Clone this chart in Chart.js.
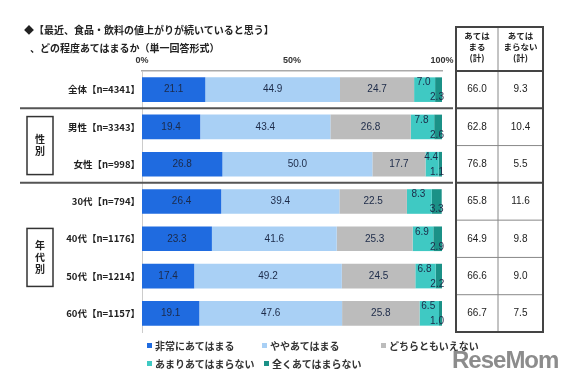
<!DOCTYPE html>
<html lang="ja">
<head>
<meta charset="utf-8">
<script src="https://cdn.jsdelivr.net/npm/chart.js@4"></script>
<style>
    body { margin: 0; background: #fff; }
    #wrap { position: relative; width: 561px; height: 383px; overflow: hidden; font-family: "Noto Sans CJK JP", sans-serif; }
    #chart { position: absolute; left: 0; top: 0; }
    .title { position: absolute; font-size: 10px; font-weight: bold; color: #222; white-space: nowrap; }
    .legend { position: absolute; font-size: 10px; font-weight: bold; color: #333; white-space: nowrap; }
    .legend i { display: inline-block; width: 5px; height: 5px; margin-right: 3px; vertical-align: 2px; }
    .logo { position: absolute; left: 452px; top: 346px; font-family: "Liberation Sans", sans-serif; font-weight: bold; font-size: 24px; color: #8c8c8c; letter-spacing: -1px; }
</style>
</head>
<body>
<div id="wrap">
    <canvas id="chart" width="561" height="383"></canvas>
    <div class="title" style="left:24px; top:22px;">◆【最近、食品・飲料の値上がりが続いていると思う】</div>
    <div class="title" style="left:30px; top:40px;">、どの程度あてはまるか（単一回答形式）</div>
    <div id="legendBox"></div>
    <div class="logo">ReseMom</div>
</div>
<script>
// Data
const categories = ['全体【n=4341】', '男性【n=3343】', '女性【n=998】', '30代【n=794】', '40代【n=1176】', '50代【n=1214】', '60代【n=1157】'];
const seriesNames = ['非常にあてはまる', 'ややあてはまる', 'どちらともいえない', 'あまりあてはまらない', '全くあてはまらない'];
const veryTrue = [21.1, 19.4, 26.8, 26.4, 23.3, 17.4, 19.1];
const somewhatTrue = [44.9, 43.4, 50.0, 39.4, 41.6, 49.2, 47.6];
const neither = [24.7, 26.8, 17.7, 22.5, 25.3, 24.5, 25.8];
const notReally = [7.0, 7.8, 4.4, 8.3, 6.9, 6.8, 6.5];
const notAtAll = [2.3, 2.6, 1.1, 3.3, 2.9, 2.2, 1.0];
const applyTotal = [66.0, 62.8, 76.8, 65.8, 64.9, 66.6, 66.7];
const notApplyTotal = [9.3, 10.4, 5.5, 11.6, 9.8, 9.0, 7.5];
const xTicks = [0, 50, 100];
const groups = [
    { label: '性別', from: 1, to: 2 },
    { label: '年代別', from: 3, to: 6 }
];
const separatorsAfter = [0, 2];

const colors = ['#1f6be0', '#a9d0f5', '#bcbcbc', '#3fc9c3', '#1b9187'];
const seriesData = [veryTrue, somewhatTrue, neither, notReally, notAtAll];

// legend (html)
const legendPos = [[147, 338], [262, 338], [381, 338], [147, 356], [264, 356]];
const legendBox = document.getElementById('legendBox');
seriesNames.forEach((name, i) => {
    const el = document.createElement('div');
    el.className = 'legend';
    el.style.left = legendPos[i][0] + 'px';
    el.style.top = legendPos[i][1] + 'px';
    el.innerHTML = `<i style="background:${colors[i]}"></i>${name}`;
    legendBox.appendChild(el);
});

const extrasPlugin = {
    id: 'extras',
    afterDatasetsDraw(chart) {
        const ctx = chart.ctx;
        const yScale = chart.scales.y;
        const band = yScale.getPixelForValue(1) - yScale.getPixelForValue(0);
        const edge = i => yScale.getPixelForValue(i) + band / 2;
        const tTop = 27, c0 = 456, c1 = 498, c2 = 543;
        const tBottom = edge(categories.length - 1);

        // value labels
        ctx.save();
        ctx.font = '10px "Liberation Sans", sans-serif';
        ctx.fillStyle = '#1c2a48';
        ctx.textAlign = 'center';
        ctx.textBaseline = 'middle';
        chart.data.datasets.forEach((ds, di) => {
            chart.getDatasetMeta(di).data.forEach((bar, i) => {
                const v = ds.data[i].toFixed(1);
                const mid = (bar.x + bar.base) / 2;
                if (di < 3) ctx.fillText(v, mid, bar.y);
                else if (di === 3) ctx.fillText(v, mid - 1, bar.y - 7);
                else ctx.fillText(v, bar.x - 5, bar.y + 8);
            });
        });
        ctx.restore();

        // separators
        ctx.save();
        ctx.strokeStyle = '#555';
        ctx.lineWidth = 2;
        separatorsAfter.forEach(i => {
            const y = edge(i);
            ctx.beginPath();
            ctx.moveTo(20, y);
            ctx.lineTo(453, y);
            ctx.stroke();
        });
        ctx.restore();

        // group boxes
        ctx.save();
        ctx.strokeStyle = '#333';
        ctx.lineWidth = 1.5;
        ctx.fillStyle = '#222';
        ctx.font = 'bold 10px "Noto Sans CJK JP", sans-serif';
        ctx.textAlign = 'center';
        ctx.textBaseline = 'middle';
        groups.forEach(g => {
            const cy = (yScale.getPixelForValue(g.from) + yScale.getPixelForValue(g.to)) / 2;
            const n = g.label.length;
            const h = 58;
            ctx.strokeRect(27, cy - h / 2, 26, h);
            for (let k = 0; k < n; k++) {
                ctx.fillText(g.label[k], 40, cy + (k - (n - 1) / 2) * 12);
            }
        });
        ctx.restore();

        // table
        ctx.save();
        ctx.strokeStyle = '#888';
        ctx.lineWidth = 1;
        ctx.beginPath();
        ctx.moveTo(c1, tTop); ctx.lineTo(c1, tBottom);
        for (let i = 0; i < categories.length - 1; i++) {
            if (separatorsAfter.includes(i)) continue;
            ctx.moveTo(c0, edge(i)); ctx.lineTo(c2, edge(i));
        }
        ctx.stroke();
        ctx.strokeStyle = '#444';
        ctx.lineWidth = 2;
        ctx.beginPath();
        ctx.moveTo(c0, edge(-1)); ctx.lineTo(c2, edge(-1));
        separatorsAfter.forEach(i => { ctx.moveTo(c0, edge(i)); ctx.lineTo(c2, edge(i)); });
        ctx.stroke();
        ctx.strokeRect(c0, tTop, c2 - c0, tBottom - tTop);

        ctx.fillStyle = '#222';
        ctx.textAlign = 'center';
        ctx.textBaseline = 'middle';
        ctx.font = 'bold 8.5px "Noto Sans CJK JP", sans-serif';
        const h1 = ['あては', 'まる', '(計)'];
        const h2 = ['あては', 'まらない', '(計)'];
        h1.forEach((t, k) => ctx.fillText(t, (c0 + c1) / 2, 36 + k * 11));
        h2.forEach((t, k) => ctx.fillText(t, (c1 + c2) / 2, 36 + k * 11));
        ctx.font = '10px "Liberation Sans", sans-serif';
        categories.forEach((c, i) => {
            const y = yScale.getPixelForValue(i);
            ctx.fillText(applyTotal[i].toFixed(1), (c0 + c1) / 2, y);
            ctx.fillText(notApplyTotal[i].toFixed(1), (c1 + c2) / 2, y);
        });
        ctx.restore();
    }
};

const chart = new Chart(document.getElementById('chart'), {
    type: 'bar',
    data: {
        labels: categories,
        datasets: seriesData.map((d, i) => ({
            label: seriesNames[i],
            data: d,
            backgroundColor: colors[i],
            borderWidth: 0,
            barPercentage: 0.66,
            categoryPercentage: 1
        }))
    },
    options: {
        indexAxis: 'y',
        responsive: false,
        animation: false,
        layout: { padding: { left: 0, right: 119, top: 0, bottom: 51 } },
        plugins: { legend: { display: false }, tooltip: { enabled: false } },
        scales: {
            x: {
                position: 'top',
                stacked: true,
                min: 0,
                max: 100,
                afterFit: s => { s.height = 71; },
                afterBuildTicks: s => { s.ticks = xTicks.map(v => ({ value: v })); },
                grid: { display: false, drawTicks: false },
                border: { display: true, color: '#aaa', width: 1.5 },
                ticks: {
                    padding: 5,
                    color: '#333',
                    font: { size: 9, family: '"Liberation Sans", sans-serif', weight: 'bold' },
                    callback: v => v + '%'
                }
            },
            y: {
                stacked: true,
                afterFit: s => { s.width = 142; },
                grid: { display: false, drawTicks: false },
                border: { display: true, color: '#ccc', width: 1 },
                ticks: {
                    padding: 2,
                    color: '#222',
                    font: { size: 9.5, family: '"Noto Sans CJK JP", sans-serif', weight: 'bold' }
                }
            }
        }
    },
    plugins: [extrasPlugin]
});
</script>
</body>
</html>
